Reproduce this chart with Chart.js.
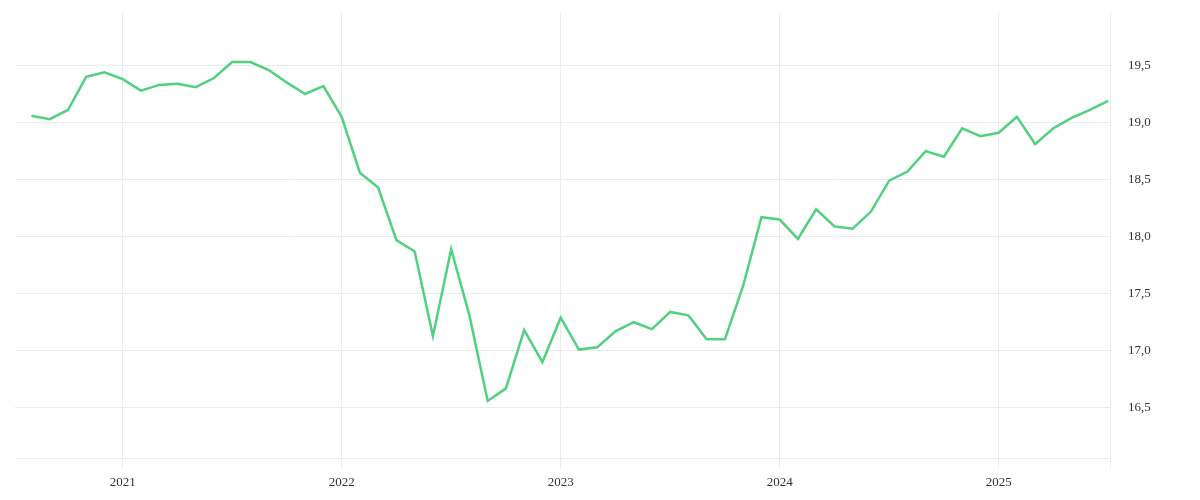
<!DOCTYPE html>
<html>
<head>
<meta charset="utf-8">
<script src="https://cdn.jsdelivr.net/npm/chart.js@4.4.0/dist/chart.umd.min.js"></script>
<style>
  html, body { margin: 0; padding: 0; background: #fff; }
</style>
</head>
<body>
<canvas id="myChart" width="1200" height="500"></canvas>
<script>
// monthly observations, Aug 2020 .. Jul 2025
const months = [
  '2020-08', '2020-09', '2020-10', '2020-11', '2020-12',
  '2021-01', '2021-02', '2021-03', '2021-04', '2021-05', '2021-06',
  '2021-07', '2021-08', '2021-09', '2021-10', '2021-11', '2021-12',
  '2022-01', '2022-02', '2022-03', '2022-04', '2022-05', '2022-06',
  '2022-07', '2022-08', '2022-09', '2022-10', '2022-11', '2022-12',
  '2023-01', '2023-02', '2023-03', '2023-04', '2023-05', '2023-06',
  '2023-07', '2023-08', '2023-09', '2023-10', '2023-11', '2023-12',
  '2024-01', '2024-02', '2024-03', '2024-04', '2024-05', '2024-06',
  '2024-07', '2024-08', '2024-09', '2024-10', '2024-11', '2024-12',
  '2025-01', '2025-02', '2025-03', '2025-04', '2025-05', '2025-06',
  '2025-07'
];

const values = [
  19.06, 19.03, 19.11, 19.40, 19.44,
  19.38, 19.28, 19.33, 19.34, 19.31, 19.39,
  19.53, 19.53, 19.46, 19.35, 19.25, 19.32,
  19.05, 18.56, 18.43, 17.97, 17.87, 17.13,
  17.89, 17.31, 16.56, 16.67, 17.18, 16.90,
  17.29, 17.01, 17.03, 17.17, 17.25, 17.19,
  17.34, 17.31, 17.10, 17.10, 17.57, 18.17,
  18.15, 17.98, 18.24, 18.09, 18.07, 18.22,
  18.49, 18.57, 18.75, 18.70, 18.95, 18.88,
  18.91, 19.05, 18.81, 18.95, 19.04, 19.11,
  19.19
];

const yearTicks = ['2021', '2022', '2023', '2024', '2025'];
const yTicks = [16.5, 17, 17.5, 18, 18.5, 19, 19.5];

const xMin = -0.9;
const xMax = 59.1;
const tickIdx = yearTicks.map(y => months.indexOf(y + '-01'));
const points = values.map((v, i) => ({ x: i, y: v }));

const labelFont = { family: '"Liberation Serif", serif', size: 13 };
const gridColor = '#ebebeb';

new Chart('myChart', {
  type: 'line',
  data: {
    datasets: [{
      data: points,
      borderColor: '#4fd17f',
      borderWidth: 2.5,
      pointRadius: 0,
      tension: 0,
      fill: false
    }]
  },
  options: {
    responsive: false,
    animation: false,
    layout: { padding: { left: 15, top: 13, right: 0, bottom: 0 } },
    plugins: {
      legend: { display: false },
      tooltip: { enabled: false }
    },
    scales: {
      x: {
        type: 'linear',
        min: xMin,
        max: xMax,
        afterBuildTicks: s => { s.ticks = tickIdx.concat([xMax]).map(v => ({ value: v })); },
        afterFit: s => { s.height = 42; s.paddingLeft = 0; s.paddingRight = 0; },
        ticks: {
          autoSkip: false,
          maxRotation: 0,
          padding: 7,
          color: '#333',
          font: labelFont,
          callback: v => {
            const i = tickIdx.indexOf(v);
            return i < 0 ? '' : yearTicks[i];
          }
        },
        grid: { color: gridColor, tickLength: 10 },
        border: { color: gridColor }
      },
      y: {
        position: 'right',
        min: 16.06,
        max: 19.96,
        afterBuildTicks: s => { s.ticks = yTicks.map(v => ({ value: v })); },
        afterFit: s => { s.width = 90; s.paddingTop = 0; s.paddingBottom = 0; },
        ticks: {
          padding: 18,
          color: '#333',
          font: labelFont,
          callback: v => v.toFixed(1).replace('.', ',')
        },
        grid: { color: gridColor, drawTicks: false },
        border: { display: false }
      }
    }
  }
});
</script>
</body>
</html>
